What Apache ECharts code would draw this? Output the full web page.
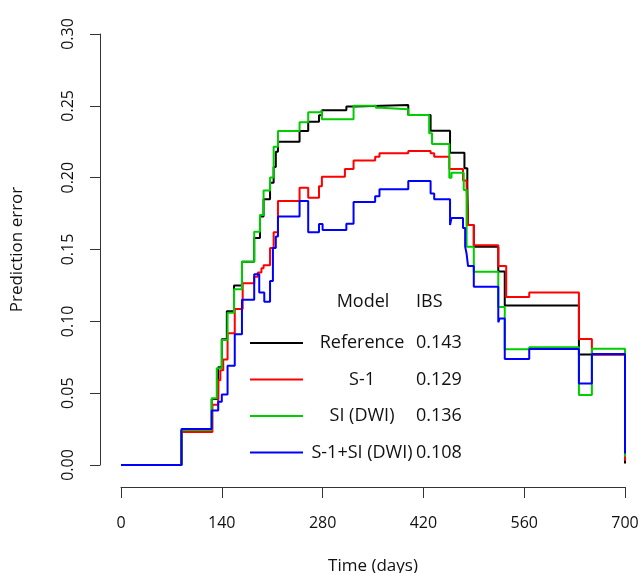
<!DOCTYPE html>
<html>
<head>
<meta charset="utf-8">
<script src="https://cdn.jsdelivr.net/npm/echarts@6/dist/echarts.min.js"></script>
<style>
  html, body { margin: 0; padding: 0; background: #fff; }
  #main { width: 640px; height: 573px; }
</style>
</head>
<body>
<div id="main"></div>
<script>
// step curves: [day, prediction error], value holds until the next day
var reference = [[0,0],[84,0.024],[126,0.046],[135,0.068],[140,0.0875],[147,0.107],[157,0.125],[168,0.1415],[185,0.158],[193,0.173],[198,0.185],[207,0.1965],[212,0.2075],[215,0.218],[218,0.225],[248,0.2325],[260,0.239],[275,0.2435],[279,0.247],[313,0.2495],[325,0.2505],[399,0.2436],[430,0.2327],[457,0.2174],[477,0.2065],[481,0.195],[482,0.167],[490,0.152],[524,0.1346],[533,0.111],[636,0.077],[700,0.001]];
var s1 = [[0,0],[84,0.023],[127,0.042],[135,0.059],[138,0.066],[142,0.0735],[148,0.0917],[158,0.1086],[169,0.1265],[185,0.131],[190,0.134],[195,0.137],[198,0.139],[207,0.151],[212,0.162],[218,0.1837],[248,0.193],[260,0.186],[275,0.194],[279,0.2007],[311,0.206],[323,0.212],[353,0.2146],[359,0.217],[399,0.2186],[430,0.217],[435,0.2146],[456,0.206],[475,0.198],[480,0.194],[482,0.167],[490,0.153],[524,0.1385],[535,0.117],[567,0.120],[636,0.0877],[654,0.077],[700,0.003]];
var siDwi = [[0,0],[84,0.0244],[126,0.0464],[133,0.0673],[140,0.087],[148,0.106],[157,0.1223],[168,0.1415],[185,0.1624],[193,0.174],[198,0.191],[207,0.2002],[212,0.2216],[218,0.2325],[248,0.2385],[260,0.2455],[276,0.2466],[279,0.2406],[323,0.2501],[354,0.2487],[360,0.2476],[399,0.2436],[428,0.231],[432,0.2235],[456,0.2],[459,0.2035],[476,0.1914],[480,0.152],[490,0.1345],[524,0.110],[533,0.0805],[567,0.082],[636,0.0487],[654,0.081],[700,0.006]];
var s1SiDwi = [[0,0],[84,0.025],[126,0.038],[135,0.044],[140,0.049],[148,0.069],[158,0.091],[168,0.115],[185,0.1327],[192,0.120],[199,0.1137],[207,0.128],[211,0.151],[215,0.159],[218,0.173],[248,0.1837],[260,0.162],[275,0.1677],[280,0.1636],[313,0.168],[323,0.183],[353,0.187],[359,0.192],[399,0.1977],[430,0.189],[435,0.185],[457,0.167],[459,0.172],[475,0.165],[478,0.152],[480,0.147],[482,0.1385],[490,0.124],[524,0.0993],[526,0.102],[533,0.0738],[567,0.0807],[636,0.0568],[654,0.0773],[700,0.008]];

var modelNames = ['Reference', 'S-1', 'SI (DWI)', 'S-1+SI (DWI)'];
var ibsValues = ['0.143', '0.129', '0.136', '0.108'];
var colors = ['#000000', '#ff0000', '#00cd00', '#0000ff'];
var curves = [reference, s1, siDwi, s1SiDwi];

var font = '"Open Sans", "DejaVu Sans", sans-serif';
var chart = echarts.init(document.getElementById('main'));

// legend drawn like R's legend(): line, centred name, IBS column
var legendItems = [
  { type: 'text', x: 363, y: 302, style: { text: 'Model', font: '18px ' + font, fill: '#111', align: 'center', verticalAlign: 'middle' } },
  { type: 'text', x: 416, y: 302, style: { text: 'IBS', font: '18px ' + font, fill: '#111', align: 'left', verticalAlign: 'middle' } }
];
modelNames.forEach(function (name, i) {
  var y = 343 + i * 36.5;
  legendItems.push({ type: 'line', shape: { x1: 250, y1: y, x2: 303, y2: y }, style: { stroke: colors[i], lineWidth: 2 } });
  legendItems.push({ type: 'text', x: 362, y: y, style: { text: name, font: '18px ' + font, fill: '#111', align: 'center', verticalAlign: 'middle' } });
  legendItems.push({ type: 'text', x: 416, y: y, style: { text: ibsValues[i], font: '18px ' + font, fill: '#111', align: 'left', verticalAlign: 'middle' } });
});

var option = {
  animation: false,
  grid: { left: 121, right: 15, top: 34, bottom: 108, outerBoundsMode: 'none' },
  xAxis: {
    type: 'value',
    min: 0, max: 700, interval: 140,
    offset: 22,
    name: 'Time (days)',
    nameLocation: 'middle',
    nameGap: 71,
    nameTextStyle: { fontSize: 17, color: '#111', fontFamily: font },
    axisLine: { show: true, onZero: false, lineStyle: { color: '#333', width: 1 } },
    axisTick: { show: true, length: 11, lineStyle: { color: '#333' } },
    axisLabel: { fontSize: 16, color: '#111', fontFamily: font, margin: 28 },
    splitLine: { show: false }
  },
  yAxis: {
    type: 'value',
    min: 0, max: 0.3, interval: 0.05,
    offset: 21,
    name: 'Prediction error',
    nameLocation: 'middle',
    nameGap: 74,
    nameTextStyle: { fontSize: 17, color: '#111', fontFamily: font },
    axisLine: { show: true, onZero: false, lineStyle: { color: '#333', width: 1 } },
    axisTick: { show: true, length: 10, lineStyle: { color: '#333' } },
    axisLabel: { fontSize: 16, color: '#111', fontFamily: font, rotate: 90, margin: 24,
      formatter: function (v) { return v.toFixed(2); } },
    splitLine: { show: false }
  },
  graphic: legendItems,
  series: curves.map(function (d, i) {
    return {
      name: modelNames[i],
      type: 'line',
      step: 'end',
      data: d,
      showSymbol: false,
      clip: false,
      lineStyle: { color: colors[i], width: 2 },
      z: 2 + i
    };
  })
};

chart.setOption(option);
</script>
</body>
</html>
